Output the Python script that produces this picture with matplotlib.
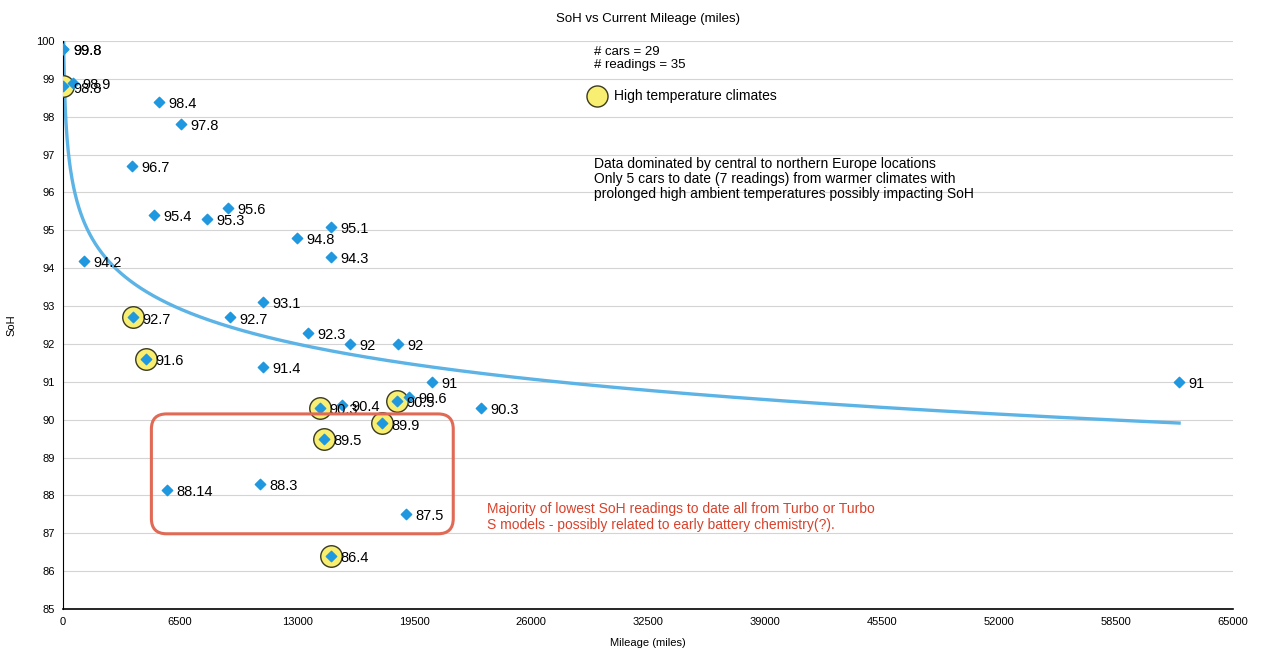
import numpy as np
import matplotlib
matplotlib.use('Agg')
import matplotlib.pyplot as plt
from matplotlib.patches import FancyBboxPatch

plt.rcParams['font.family'] = ['Liberation Sans', 'DejaVu Sans']

# Step 1: data (mileage, SoH)
mileage = [25, 25, 25, 550, 5330, 6560, 3830, 5060, 8000, 9170, 13000,
           14890, 14890, 1170, 11110, 3890, 9280, 13610, 15940, 18610,
           4610, 11110, 20500, 19220, 18560, 14280, 15500, 23220, 17720,
           14500, 5780, 10940, 19060, 14890, 62000]
soh = [99.8, 99.8, 98.8, 98.9, 98.4, 97.8, 96.7, 95.4, 95.3, 95.6, 94.8,
       95.1, 94.3, 94.2, 93.1, 92.7, 92.7, 92.3, 92, 92,
       91.6, 91.4, 91, 90.6, 90.5, 90.3, 90.4, 90.3, 89.9,
       89.5, 88.14, 88.3, 87.5, 86.4, 91]
# readings from high temperature climates
hot = [2, 15, 20, 24, 25, 28, 29, 33]

x = np.array(mileage, dtype=float)
y = np.array(soh)

# Step 2: logarithmic trend line
b, a = np.polyfit(np.log(x), y, 1)
xt = np.linspace(1, x.max(), 3000)
yt = a + b * np.log(xt)

fig = plt.figure(figsize=(12.66, 6.57), dpi=100)
ax = fig.add_axes([0.0498, 0.073, 0.9242, 0.8646])

ax.plot(xt, yt, color='#5cb3e6', lw=2.4, zorder=2)
ax.scatter(x[hot], y[hot], s=240, facecolor='#f7ee72', edgecolor='#3a3a20',
           lw=1.0, zorder=3)
ax.scatter(x, y, marker='D', s=28, color='#1f98e0', zorder=4)

for xi, yi in zip(mileage, soh):
    ax.annotate(f'{yi:g}', (xi, yi), xytext=(7, -1.5), textcoords='offset points',
                va='center', ha='left', fontsize=10.5, zorder=5)

# Step 3: axes styling
ax.set_xlim(0, 65000)
ax.set_ylim(85, 100)
ax.set_xticks(np.arange(0, 65001, 6500))
ax.set_yticks(np.arange(85, 101, 1))
ax.tick_params(length=0, labelsize=8, pad=6)
ax.yaxis.grid(True, color='#d4d4d4', lw=0.8)
ax.set_axisbelow(True)
for s in ['top', 'right']:
    ax.spines[s].set_visible(False)
ax.spines['left'].set_color('black')
ax.spines['bottom'].set_color('black')
ax.spines['bottom'].set_linewidth(1.2)

ax.set_title('SoH vs Current Mileage (miles)', fontsize=9.5, pad=14)
ax.set_xlabel('Mileage (miles)', fontsize=8, labelpad=8)
ax.set_ylabel('SoH', fontsize=8, labelpad=14)

# Step 4: notes
ax.text(0.4535, 0.969, '# cars = 29\n# readings = 35', transform=ax.transAxes,
        fontsize=9.5, va='center', linespacing=1.15)
ax.scatter([0.4565], [0.903], s=230, facecolor='#f7ee72', edgecolor='#3a3a20',
           lw=1.0, transform=ax.transAxes, clip_on=False)
ax.text(0.471, 0.903, 'High temperature climates', transform=ax.transAxes,
        fontsize=10, va='center')
ax.text(0.4535, 0.757,
        'Data dominated by central to northern Europe locations\n'
        'Only 5 cars to date (7 readings) from warmer climates with\n'
        'prolonged high ambient temperatures possibly impacting SoH',
        transform=ax.transAxes, fontsize=10, va='center', linespacing=1.1)
ax.text(0.362, 0.162,
        'Majority of lowest SoH readings to date all from Turbo or Turbo\n'
        'S models - possibly related to early battery chemistry(?).',
        transform=ax.transAxes, fontsize=10, va='center', color='#d9412b',
        linespacing=1.1)

box = FancyBboxPatch((0.0755, 0.1325), 0.258, 0.211,
                     boxstyle='round,pad=0,rounding_size=0.013',
                     transform=ax.transAxes, fill=False, edgecolor='#e06a55',
                     lw=2.2, zorder=6, mutation_aspect=2.06)
ax.add_patch(box)

plt.savefig('out.png', dpi=100)
